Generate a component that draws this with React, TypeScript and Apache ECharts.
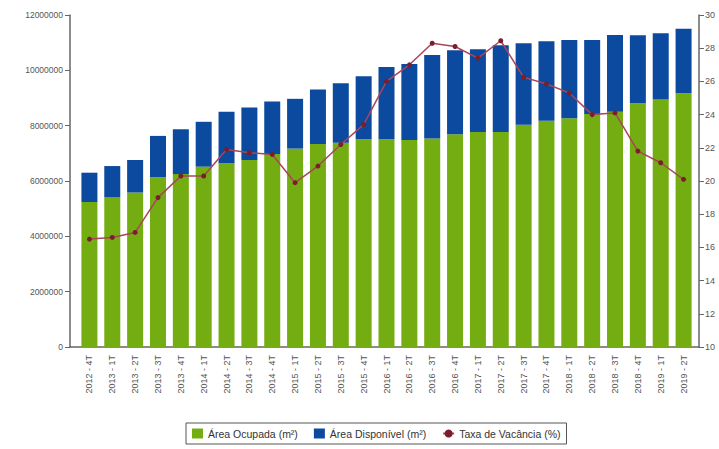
import React, { useEffect, useRef } from "react";
import * as echarts from "echarts";

const categories = [
  "2012 - 4T", "2013 - 1T", "2013 - 2T", "2013 - 3T", "2013 - 4T",
  "2014 - 1T", "2014 - 2T", "2014 - 3T", "2014 - 4T",
  "2015 - 1T", "2015 - 2T", "2015 - 3T", "2015 - 4T",
  "2016 - 1T", "2016 - 2T", "2016 - 3T", "2016 - 4T",
  "2017 - 1T", "2017 - 2T", "2017 - 3T", "2017 - 4T",
  "2018 - 1T", "2018 - 2T", "2018 - 3T", "2018 - 4T",
  "2019 - 1T", "2019 - 2T",
];

const totalArea = [
  6300000, 6540000, 6760000, 7630000, 7870000, 8140000, 8500000, 8660000, 8870000,
  8970000, 9310000, 9530000, 9790000, 10120000, 10230000, 10550000, 10730000,
  10760000, 10910000, 10980000, 11050000, 11100000, 11100000, 11280000, 11270000,
  11340000, 11500000,
];

const areaOcupada = [
  5240000, 5410000, 5580000, 6130000, 6250000, 6520000, 6640000, 6760000, 6980000,
  7170000, 7340000, 7380000, 7510000, 7510000, 7480000, 7540000, 7690000,
  7770000, 7770000, 8030000, 8180000, 8270000, 8420000, 8500000, 8810000,
  8950000, 9170000,
];

const areaDisponivel = totalArea.map((t, i) => t - areaOcupada[i]);

const taxaVacancia = [
  16.5, 16.6, 16.9, 19.0, 20.3, 20.3, 21.9, 21.7, 21.6, 19.9, 20.9, 22.2, 23.4,
  26.0, 27.0, 28.3, 28.1, 27.4, 28.45, 26.25, 25.85, 25.3, 24.0, 24.1, 21.8,
  21.1, 20.1,
];

const leftTicks = { min: 0, max: 12000000, interval: 2000000 };
const rightTicks = { min: 10, max: 30, interval: 2 };

export default function App() {
  const ref = useRef<HTMLDivElement>(null);
  useEffect(() => {
    if (!ref.current) return;
    const chart = echarts.init(ref.current, undefined, { renderer: "svg" });
    const axisColor = "#666";
    const labelColor = "#555";
    const font = "'Liberation Sans', Arial, sans-serif";
    chart.setOption({
      animation: false,
      textStyle: { fontFamily: font },
      grid: [
        { left: 78, right: 24, top: 15, bottom: 102 },
        { left: 70, right: 20, top: 15, bottom: 102 },
      ],
      legend: {
        left: 186,
        top: 423,
        itemWidth: 11,
        itemHeight: 10,
        itemGap: 16,
        borderColor: "#555",
        borderWidth: 1,
        borderRadius: 0,
        padding: [5, 6, 5, 6],
        textStyle: { fontSize: 10.5, color: "#333", fontFamily: font },
        data: [
          { name: "Área Ocupada (m²)", icon: "rect" },
          { name: "Área Disponível (m²)", icon: "rect" },
          { name: "Taxa de Vacância (%)" },
        ],
      },
      xAxis: [
        {
          type: "category",
          gridIndex: 0,
          data: categories,
          boundaryGap: true,
          axisLine: { show: false },
          axisTick: { alignWithLabel: true, length: 5, lineStyle: { color: axisColor } },
          axisLabel: { rotate: 90, fontSize: 9, color: labelColor, margin: 8, interval: 0 },
        },
        {
          type: "value",
          gridIndex: 1,
          min: 0,
          max: 1,
          axisLine: { show: true, onZero: false, lineStyle: { color: axisColor, width: 1.5 } },
          axisTick: { show: false },
          axisLabel: { show: false },
          splitLine: { show: false },
        },
      ],
      yAxis: [
        {
          type: "value",
          gridIndex: 0,
          min: leftTicks.min,
          max: leftTicks.max,
          interval: leftTicks.interval,
          offset: 8,
          axisLine: { show: true, lineStyle: { color: axisColor, width: 1.5 } },
          axisTick: { show: true, length: 5, lineStyle: { color: axisColor } },
          axisLabel: { fontSize: 8.5, color: labelColor, margin: 7, formatter: (v: number) => String(v) },
          splitLine: { show: false },
        },
        {
          type: "value",
          gridIndex: 0,
          min: rightTicks.min,
          max: rightTicks.max,
          interval: rightTicks.interval,
          position: "right",
          offset: 4,
          axisLine: { show: true, lineStyle: { color: axisColor, width: 1.5 } },
          axisTick: { show: true, length: 5, lineStyle: { color: axisColor } },
          axisLabel: { fontSize: 9, color: labelColor, margin: 6 },
          splitLine: { show: false },
        },
        {
          type: "value",
          gridIndex: 1,
          show: false,
        },
      ],
      series: [
        {
          name: "Área Ocupada (m²)",
          type: "bar",
          stack: "area",
          data: areaOcupada,
          barWidth: 16,
          itemStyle: { color: "#74ad12" },
        },
        {
          name: "Área Disponível (m²)",
          type: "bar",
          stack: "area",
          data: areaDisponivel,
          barWidth: 16,
          itemStyle: { color: "#0b4a9e" },
        },
        {
          name: "Taxa de Vacância (%)",
          type: "line",
          yAxisIndex: 1,
          data: taxaVacancia,
          symbol: "circle",
          symbolSize: 5,
          lineStyle: { color: "#a8455a", width: 1.5 },
          itemStyle: { color: "#7a1e2c" },
        },
      ],
    });
    return () => chart.dispose();
  }, []);
  return (
    <div
      ref={ref}
      style={{ position: "fixed", left: 0, top: 0, width: 719, height: 449, background: "#fff" }}
    />
  );
}
